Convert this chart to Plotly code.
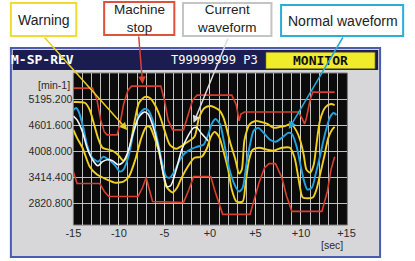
import plotly.graph_objects as go

# ---------------- data (time [sec], speed [min-1]) ----------------
normal_t = [-15.0, -14.7, -14.4, -13.9, -13.5, -13.0, -12.3, -11.7, -11.1, -10.4, -9.9, -9.5, -8.9, -8.4,
            -7.8, -7.2, -6.8, -6.3, -5.7, -5.2, -4.8, -4.4, -3.8, -3.3, -2.7, -2.0, -1.4, -0.7, -0.2, 0.2,
            0.6, 1.1, 1.6, 2.1, 2.7, 3.2, 3.6, 4.0, 4.4, 4.8, 5.3, 6.0, 6.6, 7.2, 7.9, 8.6, 9.0, 9.5, 9.9,
            10.3, 10.7, 11.2, 11.6, 12.1, 12.7, 13.2, 13.6, 13.9]
normal_rpm = [4946, 4991, 4901, 4539, 4154, 3882, 3769, 3882, 3814, 3678, 3543, 3588, 3927, 4425,
              4833, 4969, 4946, 4720, 4199, 3701, 3429, 3407, 3588, 3814, 3973, 4063, 4109, 4154, 4380, 4629,
              4742, 4629, 4154, 3633, 3248, 3090, 3180, 3701, 4154, 4471, 4539, 4403, 4267, 4222, 4312, 4425,
              4403, 4131, 3746, 3361, 3135, 3180, 3475, 3905, 4448, 4788, 4878, 4833]

current_t = [-15.0, -14.6, -14.0, -13.5, -12.9, -12.3, -11.8, -11.3, -10.7, -10.1, -9.6, -9.0, -8.4, -7.8,
             -7.2, -6.8, -6.3, -5.6, -5.1, -4.7, -4.3, -3.7, -3.1, -2.4, -1.8, -1.4, -0.9, -0.2]
current_rpm = [4810, 4720, 4448, 4086, 3814, 3678, 3769, 3814, 3792, 3701, 3746, 3995, 4448, 4788,
               4901, 4856, 4607, 4041, 3475, 3203, 3226, 3588, 4041, 4358, 4539, 4539, 4403, 4244]

warn_hi_t = [-15.0, -13.7, -13.2, -12.8, -12.3, -11.8, -10.7, -10.1, -9.5, -9.0, -8.6, -8.2, -7.8, -7.2,
             -6.6, -6.1, -5.5, -5.0, -4.4, -3.7, -2.6, -1.7, -1.2, -0.6, 0.1, 1.0, 1.5, 2.2, 2.8, 3.2, 3.5,
             3.8, 4.4, 5.0, 5.6, 6.3, 7.0, 7.7, 8.3, 8.9, 9.5, 9.9, 10.3, 10.6, 11.0, 11.4, 11.7, 12.1,
             12.7, 13.3, 13.7]
warn_hi_rpm = [5127, 5105, 4946, 4675, 4312, 4086, 4018, 3927, 3792, 3927, 4312, 4765, 5105, 5241,
               5218, 5082, 4810, 4493, 4154, 4063, 4199, 4335, 4765, 4991, 5037, 4946, 4765, 4222, 3814, 3497, 3588,
               4267, 4629, 4697, 4675, 4629, 4539, 4561, 4584, 4629, 4471, 4267, 3927, 3588, 3520, 3701, 4154, 4720,
               5014, 5082, 5059]

warn_lo_t = [-15.0, -14.6, -14.0, -13.2, -12.4, -11.3, -10.5, -9.5, -8.9, -8.2, -7.6, -7.0, -6.6, -6.2,
             -5.6, -5.2, -4.8, -4.1, -3.6, -3.1, -2.3, -1.7, -0.9, -0.3, 0.1, 0.5, 1.0, 1.5, 2.0, 2.4, 2.9,
             3.6, 3.9, 4.3, 4.7, 5.4, 6.3, 7.0, 7.9, 8.8, 9.3, 9.6, 9.9, 10.2, 11.3, 11.7, 12.1, 12.6, 13.0,
             13.4, 13.7]
warn_lo_rpm = [4493, 4312, 4086, 3656, 3475, 3361, 3293, 3316, 3429, 3814, 4267, 4561, 4561, 4380,
               3995, 3588, 3203, 3067, 3180, 3407, 3701, 3859, 3882, 4086, 4335, 4448, 4335, 3995, 3588, 3135, 2863,
               2863, 3248, 3814, 4041, 4086, 4041, 4018, 4086, 4086, 3859, 3543, 3180, 2954, 2954, 3135, 3475, 3927,
               4312, 4493, 4561]

stop_hi_t = [-15.0, -12.9, -12.4, -12.0, -11.6, -11.3, -10.2, -9.9, -9.5, -9.0, -8.6, -5.4, -5.0, -4.6,
             -4.1, -2.9, -2.4, -1.9, -1.4, 2.4, 2.9, 3.2, 3.4, 3.8, 9.7, 10.1, 10.4, 10.6, 11.0, 11.3, 13.7]
stop_hi_rpm = [5444, 5444, 5173, 4720, 4448, 4380, 4380, 4607, 5059, 5399, 5490, 5490, 5173, 4720,
               4493, 4493, 4833, 5173, 5286, 5286, 5059, 4697, 4856, 4901, 4901, 4765, 4629, 4765, 5173, 5354, 5354]

stop_lo_t = [-15.0, -14.6, -12.1, -11.6, -11.1, -7.9, -7.4, -7.0, -6.6, -6.3, -2.9, -2.3, -1.8, 0.1, 0.5,
             1.0, 1.4, 4.4, 4.9, 5.4, 6.0, 6.5, 7.2, 7.9, 8.4, 9.0, 12.3, 12.9, 13.3, 13.7]
stop_lo_rpm = [3543, 3271, 3271, 3090, 2977, 2977, 3180, 3407, 3090, 2863, 2841, 3135, 3429, 3429, 3135,
               2795, 2569, 2569, 2909, 3293, 3633, 3724, 3724, 3407, 2999, 2637, 2637, 3090, 3588, 3882]

x_tick_vals = [-15, -10, -5, 0, 5, 10, 15]
x_tick_text = ["-15", "-10", "-5", "+0", "+5", "+10", "+15"]
y_tick_vals = [2820.8, 3414.4, 4008.0, 4601.6, 5195.2, 5788.8]
y_tick_text = ["2820.800", "3414.400", "4008.000", "4601.600", "5195.200", ""]

# ---------------- layout helpers (pixel -> paper) ----------------
W, H = 415, 261


def px(x):
    return x / W


def py(y):
    return 1 - y / H


def rect(x0, y0, x1, y1, fill=None, line=None, lw=0, layer="below"):
    return dict(type="rect", xref="paper", yref="paper",
                x0=px(x0), x1=px(x1), y0=py(y1), y1=py(y0),
                fillcolor=fill if fill else "rgba(0,0,0,0)",
                line=dict(color=line if line else "rgba(0,0,0,0)", width=lw),
                layer=layer)


RED = "#d8402e"
YEL = "#f0d020"
BLUE = "#22a4e0"
WHITE = "#f6f6f6"
GRID = "rgba(210,210,210,0.9)"

fig = go.Figure()


def add_line(t, v, color, width, shape="spline", smooth=0.7):
    fig.add_trace(go.Scatter(x=t, y=v, mode="lines",
                             line=dict(color=color, width=width, shape=shape,
                                       smoothing=smooth if shape == "spline" else None),
                             hoverinfo="skip", showlegend=False))


add_line(stop_hi_t, stop_hi_rpm, RED, 1.6, shape="linear")
add_line(stop_lo_t, stop_lo_rpm, RED, 1.6, shape="linear")
add_line(warn_hi_t, warn_hi_rpm, YEL, 1.9)
add_line(warn_lo_t, warn_lo_rpm, YEL, 1.9)
add_line(normal_t, normal_rpm, BLUE, 1.9)
add_line(current_t, current_rpm, WHITE, 1.6)

shapes = [
    rect(3, 48, 387, 257, fill="#d7d7d9", line="#4b5bb0", lw=2),
    rect(5, 50, 385, 70, fill="#1b1d4f"),
    rect(268, 52, 382, 69, fill="#f0ec2a", line="#3a3a20", lw=1),
    rect(68, 73, 353, 225, fill="#0b0b0b", line="#7a7a7a", lw=1),
    # callout boxes
    rect(3, 3, 71, 36, fill="white", line="#f0dc30", lw=2, layer="above"),
    rect(100, 2, 173, 35, fill="white", line="#e0503a", lw=2, layer="above"),
    rect(182, 3, 274, 36, fill="white", line="#c4c4c4", lw=2, layer="above"),
    rect(284, 5, 411, 36, fill="white", line="#2aaed6", lw=2, layer="above"),
]

TXT = dict(family="Liberation Sans, Arial, sans-serif", size=14, color="#222222")
TXT2 = dict(family="Liberation Sans, Arial, sans-serif", size=13.5, color="#222222")
LBL = dict(family="Liberation Sans, Arial, sans-serif", size=10.5, color="#2a2a2a")


def text(x, y, s, font, xanchor="center"):
    return dict(x=px(x), y=py(y), xref="paper", yref="paper", text=s, showarrow=False,
                xanchor=xanchor, yanchor="middle", font=font)


def arrow(x0, y0, x1, y1, color):
    return dict(x=px(x1), y=py(y1), xref="paper", yref="paper", text="",
                showarrow=True, axref="pixel", ayref="pixel", ax=x0 - x1, ay=y0 - y1,
                arrowhead=2, arrowsize=1, arrowwidth=1.5, arrowcolor=color, standoff=0)


annotations = [
    text(37, 20, "Warning", TXT),
    text(137, 19, "Machine<br>stop", TXT2),
    text(228, 19, "Current<br>waveform", TXT2),
    text(348, 21, "Normal waveform", TXT),
    text(36, 60, "<b>M-SP-REV</b>", dict(family="DejaVu Sans Mono, monospace", size=13, color="white")),
    text(215, 60, "T99999999 P3", dict(family="DejaVu Sans Mono, monospace", size=12, color="white")),
    text(325, 61, "<b>MONITOR</b>", dict(family="DejaVu Sans Mono, monospace", size=13, color="#111111")),
    text(67, 85, "[min-1]", LBL, xanchor="right"),
    text(337, 245, "[sec]", LBL),
    arrow(40, 36, 124, 130, "#e8d020"),
    arrow(136, 35, 140, 84, "#e0402e"),
    arrow(228, 37, 193, 123, "#dcdcdc"),
    arrow(347, 36, 292, 129, "#28a8d8"),
]

fig.update_layout(
    width=W, height=H, margin=dict(l=0, r=0, t=0, b=0),
    paper_bgcolor="white", plot_bgcolor="rgba(0,0,0,0)",
    shapes=shapes, annotations=annotations,
    xaxis=dict(domain=[px(68), px(353)], range=[-15, 15.1], tickmode="array",
               tickvals=x_tick_vals, ticktext=x_tick_text, showgrid=True, gridcolor=GRID, gridwidth=1,
               minor=dict(tickmode="linear", tick0=-15, dtick=1, showgrid=True, gridcolor=GRID, gridwidth=1),
               zeroline=False, showline=False, ticks="", tickfont=dict(LBL, size=11), fixedrange=True),
    yaxis=dict(domain=[py(225), py(73)], range=[2327, 5788.8], tickmode="array",
               tickvals=y_tick_vals, ticktext=y_tick_text, showgrid=True, gridcolor=GRID, gridwidth=1,
               zeroline=False, showline=False, ticks="", tickfont=LBL, fixedrange=True),
)

fig.write_html("out.html")
